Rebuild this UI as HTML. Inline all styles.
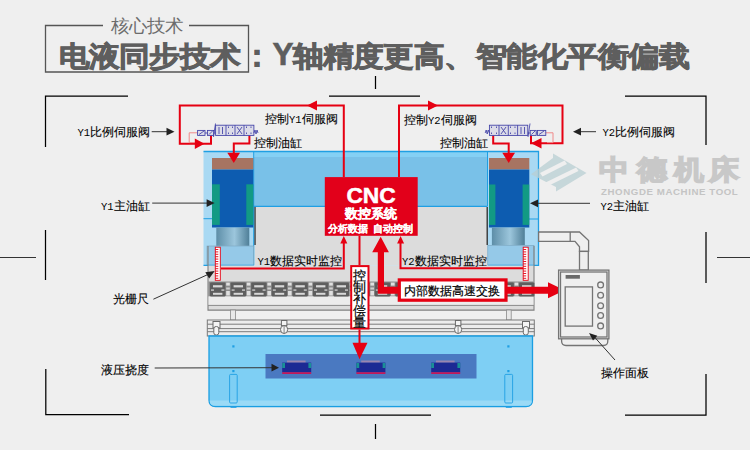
<!DOCTYPE html>
<html><head><meta charset="utf-8">
<style>
html,body{margin:0;padding:0;background:#efefef;}
body{width:750px;height:450px;overflow:hidden;position:relative;}
svg{position:absolute;left:0;top:0;}
text{font-family:"Liberation Sans",sans-serif;}
</style></head>
<body>
<svg width="750" height="450" viewBox="0 0 750 450">
<rect x="0" y="0" width="750" height="450" fill="#efefef"/>

<!-- ===== Title ===== -->
<g fill="none" stroke="#555" stroke-width="1.3">
  <polyline points="103,25.5 45.5,25.5 45.5,72 248.5,72 248.5,25.5 189,25.5"/>
</g>
<text transform="translate(110.5,31.6) scale(1.03,1)" x="0" y="0" font-size="18" fill="#6c6c6c">核心技术</text>
<text transform="translate(58.5,65.5) scale(1.02,0.93)" x="0" y="0" font-size="30" font-weight="bold" fill="#5e5e5e" stroke="#5e5e5e" stroke-width="0.9">电液同步技术</text>
<text x="242" y="66" font-size="30" font-weight="bold" fill="#5e5e5e" stroke="#5e5e5e" stroke-width="0.9">：</text>
<text x="272.5" y="65" font-size="31.5" font-weight="bold" fill="#5e5e5e" stroke="#5e5e5e" stroke-width="0.6">Y</text>
<text transform="translate(292.6,65.5) scale(1.018,0.93)" x="0" y="0" font-size="30" font-weight="bold" fill="#5e5e5e" stroke="#5e5e5e" stroke-width="0.9">轴精度更高、</text><text transform="translate(476,65.5) scale(1.033,0.93)" x="0" y="0" font-size="30" font-weight="bold" fill="#5e5e5e" stroke="#5e5e5e" stroke-width="0.9">智能化平衡偏载</text>

<!-- ===== Frame corner lines ===== -->
<g fill="none" stroke="#000" stroke-width="1.25">
  <polyline points="45.5,147 45.5,96 128,96"/>
  <polyline points="625,96 706,96 706,145"/>
  <line x1="329" y1="96" x2="420" y2="96"/>
  <line x1="375.5" y1="76" x2="375.5" y2="89"/>
  <line x1="45.5" y1="230" x2="45.5" y2="280"/>
  <polyline points="45.8,369 45.8,414.5 129,414.5"/>
  <line x1="706" y1="232" x2="706" y2="283"/>
  <polyline points="706,374 706,415 625,415"/>
  <line x1="320" y1="415" x2="431" y2="415"/>
  <line x1="375.5" y1="424" x2="375.5" y2="439"/>
</g>


<!-- ===== Upper body ===== -->
<!-- outer frame light blue -->
<rect x="203.5" y="151.5" width="335" height="114" fill="#a9d9f3"/>
<!-- mid beam -->
<rect x="254" y="151.5" width="233.5" height="5.5" fill="#84d0f4"/><rect x="254" y="157" width="233.5" height="49" fill="#79c1e8"/>
<line x1="254" y1="206.3" x2="487.5" y2="206.3" stroke="#1f9fe3" stroke-width="1.2"/>
<!-- grey gap inside -->
<rect x="254.5" y="207" width="233" height="58" fill="#dcdcdc"/>
<line x1="255" y1="207" x2="255" y2="245" stroke="#2a2a2a" stroke-width="1.3"/>
<line x1="487.2" y1="207" x2="487.2" y2="245" stroke="#2a2a2a" stroke-width="1.3"/>
<line x1="253.7" y1="151.5" x2="253.7" y2="265.5" stroke="#1f9fe3" stroke-width="1"/>
<line x1="487.5" y1="151.5" x2="487.5" y2="206" stroke="#1f9fe3" stroke-width="1"/>
<!-- left section lines -->
<line x1="203.5" y1="218.7" x2="212" y2="218.7" stroke="#1f9fe3" stroke-width="1"/>
<line x1="529" y1="219" x2="538.5" y2="219" stroke="#1f9fe3" stroke-width="1"/>

<!-- left cylinder -->
<rect x="212" y="158" width="41.3" height="11.5" fill="#a77462"/>
<rect x="212" y="169.5" width="41.3" height="58" fill="#0d5cb0"/>
<rect x="212" y="184.3" width="7.8" height="40.6" fill="#129a84"/>
<rect x="246.3" y="184.3" width="7" height="40.6" fill="#129a84"/>
<defs>
<linearGradient id="rod" x1="0" x2="1" y1="0" y2="0">
<stop offset="0" stop-color="#5d8ea8"/><stop offset="0.55" stop-color="#9cc6dc"/><stop offset="1" stop-color="#4f7f98"/>
</linearGradient>
</defs>
<rect x="216.3" y="227.6" width="33" height="18.3" fill="url(#rod)"/>
<rect x="207" y="246" width="46.7" height="19.4" fill="#95c9e8" stroke="#7aa3bd" stroke-width="0.6"/>

<!-- right cylinder -->
<rect x="489" y="158" width="40.3" height="11.5" fill="#a77462"/>
<rect x="489" y="169.5" width="40.3" height="58" fill="#0d5cb0"/>
<rect x="489" y="184.5" width="6.4" height="40.4" fill="#129a84"/>
<rect x="522.6" y="184.5" width="6.6" height="40.4" fill="#129a84"/>
<rect x="491.9" y="227.6" width="32.9" height="17.7" fill="url(#rod)"/>
<rect x="487.8" y="245.3" width="46.2" height="20" fill="#95c9e8" stroke="#7aa3bd" stroke-width="0.6"/>
<path d="M203.5,151.5 H538.5 V265.4 H487.8 M254,265.4 H203.5 Z" fill="none" stroke="#1f9fe3" stroke-width="1.3"/>

<!-- ===== Lower grey body ===== -->
<rect x="208" y="265.5" width="326" height="44.6" fill="#dcdcdc"/><polyline points="208,246 208,310.1 534,310.1 534,246" fill="none" stroke="#808080" stroke-width="1.1"/>
<rect x="208.5" y="281.5" width="325" height="15.3" fill="#8c8c8c"/>
<rect x="208.5" y="296.3" width="325" height="9" fill="#ececec"/>
<line x1="208" y1="305.4" x2="534" y2="305.4" stroke="#8a8a8a" stroke-width="1"/>
<g id="clamps"><rect x="210.0" y="282.6" width="15.4" height="14" rx="1" fill="#5e5e5e"/><rect x="213.0" y="285.2" width="9.4" height="2.2" fill="#d8d8d8"/><rect x="213.0" y="292.8" width="9.4" height="2" fill="#d8d8d8"/><rect x="211.0" y="289.3" width="3" height="1.6" fill="#bdbdbd"/><rect x="221.4" y="289.3" width="3" height="1.6" fill="#bdbdbd"/><rect x="226.2" y="282.6" width="3.6" height="3" fill="#e0e0e0"/><rect x="226.2" y="287.5" width="3.6" height="2" fill="#cfcfcf"/><rect x="226.2" y="291" width="3.6" height="4.5" fill="#e0e0e0"/><rect x="230.6" y="282.6" width="15.4" height="14" rx="1" fill="#5e5e5e"/><rect x="233.6" y="285.2" width="9.4" height="2.2" fill="#d8d8d8"/><rect x="233.6" y="292.8" width="9.4" height="2" fill="#d8d8d8"/><rect x="231.6" y="289.3" width="3" height="1.6" fill="#bdbdbd"/><rect x="242.0" y="289.3" width="3" height="1.6" fill="#bdbdbd"/><rect x="246.8" y="282.6" width="3.6" height="3" fill="#e0e0e0"/><rect x="246.8" y="287.5" width="3.6" height="2" fill="#cfcfcf"/><rect x="246.8" y="291" width="3.6" height="4.5" fill="#e0e0e0"/><rect x="251.2" y="282.6" width="15.4" height="14" rx="1" fill="#5e5e5e"/><rect x="254.2" y="285.2" width="9.4" height="2.2" fill="#d8d8d8"/><rect x="254.2" y="292.8" width="9.4" height="2" fill="#d8d8d8"/><rect x="252.2" y="289.3" width="3" height="1.6" fill="#bdbdbd"/><rect x="262.6" y="289.3" width="3" height="1.6" fill="#bdbdbd"/><rect x="267.4" y="282.6" width="3.6" height="3" fill="#e0e0e0"/><rect x="267.4" y="287.5" width="3.6" height="2" fill="#cfcfcf"/><rect x="267.4" y="291" width="3.6" height="4.5" fill="#e0e0e0"/><rect x="271.8" y="282.6" width="15.4" height="14" rx="1" fill="#5e5e5e"/><rect x="274.8" y="285.2" width="9.4" height="2.2" fill="#d8d8d8"/><rect x="274.8" y="292.8" width="9.4" height="2" fill="#d8d8d8"/><rect x="272.8" y="289.3" width="3" height="1.6" fill="#bdbdbd"/><rect x="283.2" y="289.3" width="3" height="1.6" fill="#bdbdbd"/><rect x="288.0" y="282.6" width="3.6" height="3" fill="#e0e0e0"/><rect x="288.0" y="287.5" width="3.6" height="2" fill="#cfcfcf"/><rect x="288.0" y="291" width="3.6" height="4.5" fill="#e0e0e0"/><rect x="292.4" y="282.6" width="15.4" height="14" rx="1" fill="#5e5e5e"/><rect x="295.4" y="285.2" width="9.4" height="2.2" fill="#d8d8d8"/><rect x="295.4" y="292.8" width="9.4" height="2" fill="#d8d8d8"/><rect x="293.4" y="289.3" width="3" height="1.6" fill="#bdbdbd"/><rect x="303.8" y="289.3" width="3" height="1.6" fill="#bdbdbd"/><rect x="308.6" y="282.6" width="3.6" height="3" fill="#e0e0e0"/><rect x="308.6" y="287.5" width="3.6" height="2" fill="#cfcfcf"/><rect x="308.6" y="291" width="3.6" height="4.5" fill="#e0e0e0"/><rect x="313.0" y="282.6" width="15.4" height="14" rx="1" fill="#5e5e5e"/><rect x="316.0" y="285.2" width="9.4" height="2.2" fill="#d8d8d8"/><rect x="316.0" y="292.8" width="9.4" height="2" fill="#d8d8d8"/><rect x="314.0" y="289.3" width="3" height="1.6" fill="#bdbdbd"/><rect x="324.4" y="289.3" width="3" height="1.6" fill="#bdbdbd"/><rect x="329.2" y="282.6" width="3.6" height="3" fill="#e0e0e0"/><rect x="329.2" y="287.5" width="3.6" height="2" fill="#cfcfcf"/><rect x="329.2" y="291" width="3.6" height="4.5" fill="#e0e0e0"/><rect x="333.6" y="282.6" width="15.4" height="14" rx="1" fill="#5e5e5e"/><rect x="336.6" y="285.2" width="9.4" height="2.2" fill="#d8d8d8"/><rect x="336.6" y="292.8" width="9.4" height="2" fill="#d8d8d8"/><rect x="334.6" y="289.3" width="3" height="1.6" fill="#bdbdbd"/><rect x="345.0" y="289.3" width="3" height="1.6" fill="#bdbdbd"/><rect x="349.8" y="282.6" width="3.6" height="3" fill="#e0e0e0"/><rect x="349.8" y="287.5" width="3.6" height="2" fill="#cfcfcf"/><rect x="349.8" y="291" width="3.6" height="4.5" fill="#e0e0e0"/><rect x="354.2" y="282.6" width="15.4" height="14" rx="1" fill="#5e5e5e"/><rect x="357.2" y="285.2" width="9.4" height="2.2" fill="#d8d8d8"/><rect x="357.2" y="292.8" width="9.4" height="2" fill="#d8d8d8"/><rect x="355.2" y="289.3" width="3" height="1.6" fill="#bdbdbd"/><rect x="365.6" y="289.3" width="3" height="1.6" fill="#bdbdbd"/><rect x="370.4" y="282.6" width="3.6" height="3" fill="#e0e0e0"/><rect x="370.4" y="287.5" width="3.6" height="2" fill="#cfcfcf"/><rect x="370.4" y="291" width="3.6" height="4.5" fill="#e0e0e0"/><rect x="374.8" y="282.6" width="15.4" height="14" rx="1" fill="#5e5e5e"/><rect x="377.8" y="285.2" width="9.4" height="2.2" fill="#d8d8d8"/><rect x="377.8" y="292.8" width="9.4" height="2" fill="#d8d8d8"/><rect x="375.8" y="289.3" width="3" height="1.6" fill="#bdbdbd"/><rect x="386.2" y="289.3" width="3" height="1.6" fill="#bdbdbd"/><rect x="391.0" y="282.6" width="3.6" height="3" fill="#e0e0e0"/><rect x="391.0" y="287.5" width="3.6" height="2" fill="#cfcfcf"/><rect x="391.0" y="291" width="3.6" height="4.5" fill="#e0e0e0"/><rect x="395.4" y="282.6" width="15.4" height="14" rx="1" fill="#5e5e5e"/><rect x="398.4" y="285.2" width="9.4" height="2.2" fill="#d8d8d8"/><rect x="398.4" y="292.8" width="9.4" height="2" fill="#d8d8d8"/><rect x="396.4" y="289.3" width="3" height="1.6" fill="#bdbdbd"/><rect x="406.8" y="289.3" width="3" height="1.6" fill="#bdbdbd"/><rect x="411.6" y="282.6" width="3.6" height="3" fill="#e0e0e0"/><rect x="411.6" y="287.5" width="3.6" height="2" fill="#cfcfcf"/><rect x="411.6" y="291" width="3.6" height="4.5" fill="#e0e0e0"/><rect x="416.0" y="282.6" width="15.4" height="14" rx="1" fill="#5e5e5e"/><rect x="419.0" y="285.2" width="9.4" height="2.2" fill="#d8d8d8"/><rect x="419.0" y="292.8" width="9.4" height="2" fill="#d8d8d8"/><rect x="417.0" y="289.3" width="3" height="1.6" fill="#bdbdbd"/><rect x="427.4" y="289.3" width="3" height="1.6" fill="#bdbdbd"/><rect x="432.2" y="282.6" width="3.6" height="3" fill="#e0e0e0"/><rect x="432.2" y="287.5" width="3.6" height="2" fill="#cfcfcf"/><rect x="432.2" y="291" width="3.6" height="4.5" fill="#e0e0e0"/><rect x="436.6" y="282.6" width="15.4" height="14" rx="1" fill="#5e5e5e"/><rect x="439.6" y="285.2" width="9.4" height="2.2" fill="#d8d8d8"/><rect x="439.6" y="292.8" width="9.4" height="2" fill="#d8d8d8"/><rect x="437.6" y="289.3" width="3" height="1.6" fill="#bdbdbd"/><rect x="448.0" y="289.3" width="3" height="1.6" fill="#bdbdbd"/><rect x="452.8" y="282.6" width="3.6" height="3" fill="#e0e0e0"/><rect x="452.8" y="287.5" width="3.6" height="2" fill="#cfcfcf"/><rect x="452.8" y="291" width="3.6" height="4.5" fill="#e0e0e0"/><rect x="457.2" y="282.6" width="15.4" height="14" rx="1" fill="#5e5e5e"/><rect x="460.2" y="285.2" width="9.4" height="2.2" fill="#d8d8d8"/><rect x="460.2" y="292.8" width="9.4" height="2" fill="#d8d8d8"/><rect x="458.2" y="289.3" width="3" height="1.6" fill="#bdbdbd"/><rect x="468.6" y="289.3" width="3" height="1.6" fill="#bdbdbd"/><rect x="473.4" y="282.6" width="3.6" height="3" fill="#e0e0e0"/><rect x="473.4" y="287.5" width="3.6" height="2" fill="#cfcfcf"/><rect x="473.4" y="291" width="3.6" height="4.5" fill="#e0e0e0"/><rect x="477.8" y="282.6" width="15.4" height="14" rx="1" fill="#5e5e5e"/><rect x="480.8" y="285.2" width="9.4" height="2.2" fill="#d8d8d8"/><rect x="480.8" y="292.8" width="9.4" height="2" fill="#d8d8d8"/><rect x="478.8" y="289.3" width="3" height="1.6" fill="#bdbdbd"/><rect x="489.2" y="289.3" width="3" height="1.6" fill="#bdbdbd"/><rect x="494.0" y="282.6" width="3.6" height="3" fill="#e0e0e0"/><rect x="494.0" y="287.5" width="3.6" height="2" fill="#cfcfcf"/><rect x="494.0" y="291" width="3.6" height="4.5" fill="#e0e0e0"/><rect x="498.4" y="282.6" width="15.4" height="14" rx="1" fill="#5e5e5e"/><rect x="501.4" y="285.2" width="9.4" height="2.2" fill="#d8d8d8"/><rect x="501.4" y="292.8" width="9.4" height="2" fill="#d8d8d8"/><rect x="499.4" y="289.3" width="3" height="1.6" fill="#bdbdbd"/><rect x="509.8" y="289.3" width="3" height="1.6" fill="#bdbdbd"/><rect x="514.6" y="282.6" width="3.6" height="3" fill="#e0e0e0"/><rect x="514.6" y="287.5" width="3.6" height="2" fill="#cfcfcf"/><rect x="514.6" y="291" width="3.6" height="4.5" fill="#e0e0e0"/><rect x="519.0" y="282.6" width="15.4" height="14" rx="1" fill="#5e5e5e"/><rect x="522.0" y="285.2" width="9.4" height="2.2" fill="#d8d8d8"/><rect x="522.0" y="292.8" width="9.4" height="2" fill="#d8d8d8"/><rect x="520.0" y="289.3" width="3" height="1.6" fill="#bdbdbd"/><rect x="530.4" y="289.3" width="3" height="1.6" fill="#bdbdbd"/></g>
<!-- posts -->
<rect x="230.5" y="310" width="5" height="10" fill="#e8e8e8" stroke="#8a8a8a" stroke-width="0.8"/>
<rect x="506.4" y="310" width="4.8" height="10" fill="#e8e8e8" stroke="#8a8a8a" stroke-width="0.8"/>
<!-- die rail -->
<rect x="207.3" y="320" width="327" height="16" fill="#ececec" stroke="#7a7a7a" stroke-width="1"/>
<line x1="207.3" y1="324.2" x2="534.3" y2="324.2" stroke="#7a7a7a" stroke-width="1"/>
<line x1="207.3" y1="328.6" x2="534.3" y2="328.6" stroke="#7a7a7a" stroke-width="1"/>
<line x1="207.3" y1="331.7" x2="534.3" y2="331.7" stroke="#7a7a7a" stroke-width="1"/>
<g fill="#f4f4f4" stroke="#6a6a6a" stroke-width="1">
  <rect x="213" y="321.5" width="7" height="6.5"/>
  <rect x="213.8" y="326.5" width="5" height="8.5" rx="2.3"/>
  <rect x="522.5" y="321.5" width="7" height="6.5"/>
  <rect x="523.3" y="326.5" width="5" height="8.5" rx="2.3"/>
  <rect x="281.4" y="320.5" width="5.5" height="5"/>
  <ellipse cx="284.1" cy="329.5" rx="3.6" ry="4"/>
  <rect x="455.4" y="320.5" width="5.5" height="5"/>
  <ellipse cx="458.1" cy="329.5" rx="3.6" ry="4"/>
</g>
<line x1="284.1" y1="325.5" x2="284.1" y2="333.5" stroke="#6a6a6a" stroke-width="0.8"/>
<line x1="458.1" y1="325.5" x2="458.1" y2="333.5" stroke="#6a6a6a" stroke-width="0.8"/>

<!-- ===== Lower blue body ===== -->
<path d="M209,336 L532.5,336 L532.5,400 Q532.5,406.5 526,406.5 L215.5,406.5 Q209,406.5 209,400 Z" fill="#7ecff4" stroke="#1a9ee2" stroke-width="1.3"/>
<path d="M209.7,400.6 L531.8,400.6 L531.8,401 Q531.8,405.8 526,405.8 L215.5,405.8 Q209.7,405.8 209.7,401 Z" fill="#9adaf6"/>
<rect x="265.5" y="354" width="211" height="24.5" fill="#4a79c1"/>


<!-- ===== rulers ===== -->
<g id="rulers"><rect x="215.3" y="247.2" width="5.0" height="33.10000000000002" fill="#fff" stroke="#e60012" stroke-width="0.9"/><line x1="215.3" y1="249.5" x2="218.3" y2="249.5" stroke="#e60012" stroke-width="0.9"/><line x1="215.3" y1="251.9" x2="218.3" y2="251.9" stroke="#e60012" stroke-width="0.9"/><line x1="215.3" y1="254.3" x2="218.3" y2="254.3" stroke="#e60012" stroke-width="0.9"/><line x1="215.3" y1="256.7" x2="218.3" y2="256.7" stroke="#e60012" stroke-width="0.9"/><line x1="215.3" y1="259.1" x2="218.3" y2="259.1" stroke="#e60012" stroke-width="0.9"/><line x1="215.3" y1="261.5" x2="218.3" y2="261.5" stroke="#e60012" stroke-width="0.9"/><line x1="215.3" y1="263.9" x2="218.3" y2="263.9" stroke="#e60012" stroke-width="0.9"/><line x1="215.3" y1="266.3" x2="218.3" y2="266.3" stroke="#e60012" stroke-width="0.9"/><line x1="215.3" y1="268.7" x2="218.3" y2="268.7" stroke="#e60012" stroke-width="0.9"/><line x1="215.3" y1="271.1" x2="218.3" y2="271.1" stroke="#e60012" stroke-width="0.9"/><line x1="215.3" y1="273.5" x2="218.3" y2="273.5" stroke="#e60012" stroke-width="0.9"/><line x1="215.3" y1="275.9" x2="218.3" y2="275.9" stroke="#e60012" stroke-width="0.9"/><line x1="215.3" y1="278.3" x2="218.3" y2="278.3" stroke="#e60012" stroke-width="0.9"/><rect x="523.2" y="247.2" width="5.0" height="33.10000000000002" fill="#fff" stroke="#e60012" stroke-width="0.9"/><line x1="523.2" y1="249.5" x2="526.2" y2="249.5" stroke="#e60012" stroke-width="0.9"/><line x1="523.2" y1="251.9" x2="526.2" y2="251.9" stroke="#e60012" stroke-width="0.9"/><line x1="523.2" y1="254.3" x2="526.2" y2="254.3" stroke="#e60012" stroke-width="0.9"/><line x1="523.2" y1="256.7" x2="526.2" y2="256.7" stroke="#e60012" stroke-width="0.9"/><line x1="523.2" y1="259.1" x2="526.2" y2="259.1" stroke="#e60012" stroke-width="0.9"/><line x1="523.2" y1="261.5" x2="526.2" y2="261.5" stroke="#e60012" stroke-width="0.9"/><line x1="523.2" y1="263.9" x2="526.2" y2="263.9" stroke="#e60012" stroke-width="0.9"/><line x1="523.2" y1="266.3" x2="526.2" y2="266.3" stroke="#e60012" stroke-width="0.9"/><line x1="523.2" y1="268.7" x2="526.2" y2="268.7" stroke="#e60012" stroke-width="0.9"/><line x1="523.2" y1="271.1" x2="526.2" y2="271.1" stroke="#e60012" stroke-width="0.9"/><line x1="523.2" y1="273.5" x2="526.2" y2="273.5" stroke="#e60012" stroke-width="0.9"/><line x1="523.2" y1="275.9" x2="526.2" y2="275.9" stroke="#e60012" stroke-width="0.9"/><line x1="523.2" y1="278.3" x2="526.2" y2="278.3" stroke="#e60012" stroke-width="0.9"/></g>

<!-- ===== red lines ===== -->
<g fill="none" stroke="#e60012" stroke-width="2" stroke-linejoin="miter">
  <!-- left big loop: CNC -> valve -->
  <polyline points="343.8,177 343.8,105.5 179.8,105.5 179.8,143.8 211,143.8 211,135.4"/>
  <!-- right big loop -->
  <polyline points="399,177 399,105.5 562.5,105.5 562.5,143.3 531,143.3 531,135.4"/>
  <!-- valve -> cylinder left -->
  <polyline points="249.4,135.4 249.4,143.5 233.8,143.5 233.8,154"/>
  <!-- valve -> cylinder right -->
  <polyline points="493.2,135.4 493.2,143.5 508.7,143.5 508.7,154"/>
  <!-- monitor lines -->
  <polyline points="221,268.5 343.8,268.5 343.8,242"/>
  <polyline points="523,268.3 400.5,268.3 400.5,242"/>
  <!-- control compensation line -->
  <line x1="359.5" y1="235.8" x2="359.5" y2="265"/>
  <line x1="359.5" y1="329.5" x2="359.5" y2="345"/>
</g>
<g fill="none" stroke="#f08a8a" stroke-width="1">
  <polyline points="197.6,132.8 189.2,132.8 189.2,142.6 195,142.6"/>
  <polyline points="544.5,132.8 553,132.8 553,142.6 547,142.6"/>
</g>
<g fill="#e60012">
  <!-- arrowheads -->
  <polygon points="307,105.5 317,100.5 317,110.5"/>
  <polygon points="438,105.5 428,100.5 428,110.5"/>
  <polygon points="204.5,143.8 194.8,138.4 194.8,149"/>
  <polygon points="531,143.3 541.5,138 541.5,148.6"/>
  <polygon points="233.8,163 227.3,152.7 240,152.7"/>
  <polygon points="508.7,163 502.3,152.7 515,152.7"/>
  <polygon points="343.8,236 340.3,243.5 347.3,243.5"/>
  <polygon points="400.6,236 397.1,243.5 404.1,243.5"/>
  <polygon points="359.5,359.2 352.5,342.8 367.5,342.8"/>
  <!-- big up arrow + right arrow -->
  <polygon points="380.7,236.7 372.2,252.2 377.8,252.2 377.8,293.7 548,293.7 548,298.3 564.7,290.3 548,282.3 548,286.7 384,286.7 384,252.2 388.9,252.2"/>
</g>

<!-- ===== CNC box ===== -->
<rect x="324.8" y="177.1" width="92.9" height="58.7" fill="#e2001a"/>
<text x="371.1" y="203" font-size="22.8" font-weight="bold" fill="#fff" stroke="#fff" stroke-width="0.5" text-anchor="middle">CNC</text>
<text x="371" y="218" font-size="13" font-weight="bold" fill="#fff" stroke="#fff" stroke-width="0.25" text-anchor="middle">数控系统</text>
<text x="327.5" y="232" font-size="10" font-weight="bold" fill="#fff" stroke="#fff" stroke-width="0.15">分析数据</text><text x="372.5" y="232" font-size="10" font-weight="bold" fill="#fff" stroke="#fff" stroke-width="0.15">自动控制</text>

<!-- ===== compensation box ===== -->
<rect x="351.2" y="266.1" width="17.3" height="62.4" fill="#fff" stroke="#e60012" stroke-width="2"/>
<g font-size="13" fill="#000" stroke="#000" stroke-width="0.2" text-anchor="middle">
<text x="359.8" y="280.2">控</text><text x="359.8" y="291.8">制</text><text x="359.8" y="303.4">补</text><text x="359.8" y="315">偿</text><text x="359.8" y="326.6">量</text>
</g>

<!-- ===== internal data box ===== -->
<rect x="399.3" y="279.9" width="106.7" height="20.3" fill="#fff" stroke="#e60012" stroke-width="3.2"/>
<text x="403.5" y="294.8" font-size="12.2" fill="#000" stroke="#000" stroke-width="0.2">内部数据高速交换</text>


<!-- ===== valves ===== -->
<g stroke="#3f3fa6" stroke-width="0.85" fill="#dcdce8">
  <rect x="215.6" y="125.2" width="38.3" height="10.2"/>
  <rect x="197.6" y="130.4" width="7.4" height="5"/>
  <rect x="207.4" y="130.4" width="6.3" height="5"/>
  <line x1="226" y1="125.2" x2="226" y2="135.4"/>
  <line x1="235" y1="125.2" x2="235" y2="135.4"/>
  <line x1="244" y1="125.2" x2="244" y2="135.4"/>
  <polyline fill="none" points="253.9,133 255,130 256,134 257,130 258,133"/>
  <line x1="205" y1="133" x2="207.4" y2="133"/>
  <line x1="213.7" y1="133" x2="215.6" y2="133"/>
  <line x1="213.5" y1="137" x2="215.5" y2="123.5"/>
  <line x1="219" y1="134" x2="219" y2="127"/><line x1="222.5" y1="127" x2="222.5" y2="134"/>
  <line x1="228.5" y1="126.5" x2="228.5" y2="128"/><line x1="232.5" y1="126.5" x2="232.5" y2="128"/>
  <line x1="228.5" y1="132.5" x2="228.5" y2="134"/><line x1="232.5" y1="132.5" x2="232.5" y2="134"/>
  <line x1="237" y1="127" x2="242" y2="134"/><line x1="242" y1="127" x2="237" y2="134"/>
  <line x1="246.5" y1="126.5" x2="246.5" y2="128"/><line x1="251" y1="126.5" x2="251" y2="128"/>
  <line x1="246.5" y1="132.5" x2="246.5" y2="134"/><line x1="251" y1="132.5" x2="251" y2="134"/>
  <line x1="199" y1="134.5" x2="204" y2="131"/>
  <line x1="209" y1="134.5" x2="212.5" y2="131"/>
</g>
<g stroke="#3f3fa6" stroke-width="0.85" fill="#dcdce8">
  <rect x="489.4" y="125.2" width="38.4" height="10.2"/>
  <rect x="530.2" y="130.4" width="6" height="5"/>
  <rect x="537.4" y="130.4" width="8.4" height="5"/>
  <line x1="499" y1="125.2" x2="499" y2="135.4"/>
  <line x1="508.3" y1="125.2" x2="508.3" y2="135.4"/>
  <line x1="517.6" y1="125.2" x2="517.6" y2="135.4"/>
  <polyline fill="none" points="489.4,133 488.2,130 487.2,134 486.2,130 485.2,133"/>
  <line x1="527.8" y1="133" x2="530.2" y2="133"/>
  <line x1="536.2" y1="133" x2="537.4" y2="133"/>
  <line x1="528" y1="137" x2="530" y2="123.5"/>
  <line x1="491.5" y1="126.5" x2="491.5" y2="128"/><line x1="496.5" y1="126.5" x2="496.5" y2="128"/>
  <line x1="491.5" y1="132.5" x2="491.5" y2="134"/><line x1="496.5" y1="132.5" x2="496.5" y2="134"/>
  <line x1="501" y1="127" x2="506" y2="134"/><line x1="506" y1="127" x2="501" y2="134"/>
  <line x1="510.5" y1="126.5" x2="510.5" y2="128"/><line x1="515" y1="126.5" x2="515" y2="128"/>
  <line x1="510.5" y1="132.5" x2="510.5" y2="134"/><line x1="515" y1="132.5" x2="515" y2="134"/>
  <line x1="521" y1="134" x2="521" y2="127"/><line x1="524.5" y1="127" x2="524.5" y2="134"/>
  <line x1="539" y1="134.5" x2="544" y2="131"/>
  <line x1="531.5" y1="134.5" x2="535" y2="131"/>
</g>

<!-- ===== dies ===== -->
<g id="dies"><rect x="287.0" y="360.5" width="18.6" height="2.3" fill="#9a86b0"/><rect x="282.2" y="362.6" width="29" height="9.8" fill="#1c2a94"/><rect x="282.2" y="372.2" width="29" height="1.8" fill="#c2185b"/><rect x="282.2" y="363" width="2.8" height="5" fill="#1a8f96"/><rect x="308.4" y="363" width="2.8" height="5" fill="#1a8f96"/><rect x="361.2" y="360.5" width="18.6" height="2.3" fill="#9a86b0"/><rect x="356.4" y="362.6" width="29" height="9.8" fill="#1c2a94"/><rect x="356.4" y="372.2" width="29" height="1.8" fill="#c2185b"/><rect x="356.4" y="363" width="2.8" height="5" fill="#1a8f96"/><rect x="382.59999999999997" y="363" width="2.8" height="5" fill="#1a8f96"/><rect x="436.0" y="360.5" width="18.6" height="2.3" fill="#9a86b0"/><rect x="431.2" y="362.6" width="29" height="9.8" fill="#1c2a94"/><rect x="431.2" y="372.2" width="29" height="1.8" fill="#c2185b"/><rect x="431.2" y="363" width="2.8" height="5" fill="#1a8f96"/><rect x="457.4" y="363" width="2.8" height="5" fill="#1a8f96"/></g>
<!-- slots & dots on lower body -->
<g fill="none" stroke="#1f9fe3" stroke-width="0.9">
  <rect x="229.6" y="374.4" width="7.6" height="28.6" rx="1"/>
  <rect x="504.8" y="374.4" width="7.8" height="28.6" rx="1"/>
</g>
<g fill="#1f9fe3">
  <rect x="232.3" y="345.3" width="2.2" height="2.2"/>
  <rect x="232.3" y="370" width="2.2" height="2.2"/>
  <rect x="507.3" y="345.3" width="2.2" height="2.2"/>
  <rect x="507.3" y="370" width="2.2" height="2.2"/>
  <rect x="230.5" y="406" width="6" height="1.8"/>
  <rect x="505.8" y="406" width="6" height="1.8"/>
</g>

<!-- ===== pipe & operation panel ===== -->
<g fill="#efefef" stroke="#747474" stroke-width="1.3">
  <path d="M538.6,232 L570.2,232 L579.5,232 L588.6,240.5 L588.6,251.4 L579.5,251.4 L579.5,246.8 L575,241.3 L538.6,241.3 Z"/>
  <line x1="570.2" y1="232" x2="570.2" y2="241.3"/>
  <rect x="579.5" y="251.4" width="8.8" height="18.7"/>
  <path d="M561.6,336 L561.6,341 Q561.6,345.5 566,345.5 L603.5,345.5 Q607.8,345.5 607.8,341 L607.8,336" fill="none"/>
  <rect x="558.6" y="270.1" width="50.3" height="68.7"/>
  <rect x="560.5" y="272" width="46.5" height="65"/>
  <rect x="565.2" y="286.9" width="27.3" height="39.2"/>
</g>
<rect x="565.6" y="275" width="14.3" height="3.7" fill="#6a6a6a"/>
<g fill="#efefef" stroke="#747474" stroke-width="1.3">
  <circle cx="600.6" cy="284.9" r="2.9"/><circle cx="600.6" cy="295.3" r="2.9"/><circle cx="600.6" cy="305.7" r="2.9"/><circle cx="600.6" cy="315.5" r="2.9"/><circle cx="600.6" cy="325.9" r="2.9"/>
</g>

<!-- ===== labels ===== -->
<g font-size="12" fill="#000" stroke="#000" stroke-width="0.1">
  <text x="77.5" y="136.2"><tspan font-family="Liberation Mono" font-size="10.5" stroke-width="0">Y1</tspan>比例伺服阀</text>
  <text x="101" y="209.6"><tspan font-family="Liberation Mono" font-size="10.5" stroke-width="0">Y1</tspan>主油缸</text>
  <text x="602.5" y="136.2"><tspan font-family="Liberation Mono" font-size="10.5" stroke-width="0">Y2</tspan>比例伺服阀</text>
  <text x="600.5" y="209.6"><tspan font-family="Liberation Mono" font-size="10.5" stroke-width="0">Y2</tspan>主油缸</text>
  <text x="113" y="302.5">光栅尺</text>
  <text x="100.5" y="374">液压挠度</text>
  <text x="600.8" y="377">操作面板</text>
  <text x="265" y="123">控制<tspan font-family="Liberation Mono" font-size="10.5" stroke-width="0">Y1</tspan>伺服阀</text>
  <text x="253.5" y="146.8">控制油缸</text>
  <text x="404" y="124">控制<tspan font-family="Liberation Mono" font-size="10.5" stroke-width="0">Y2</tspan>伺服阀</text>
  <text x="440" y="146.8">控制油缸</text>
  <text x="257.5" y="265.3"><tspan font-family="Liberation Mono" font-size="10.5" stroke-width="0">Y1</tspan>数据实时监控</text>
  <text x="402" y="265.3"><tspan font-family="Liberation Mono" font-size="10.5" stroke-width="0">Y2</tspan>数据实时监控</text>
</g>
<g stroke="#333" stroke-width="1" fill="none">
  <line x1="151.7" y1="131.7" x2="168" y2="131.7"/>
  <line x1="152.2" y1="203.1" x2="208" y2="203.1"/>
  <line x1="596" y1="131.7" x2="579" y2="131.7"/>
  <line x1="590" y1="203.3" x2="535" y2="203.3"/>
  <line x1="153.4" y1="299.2" x2="209" y2="274"/>
  <line x1="154.7" y1="368" x2="273" y2="367.7"/>
  <line x1="615" y1="360" x2="594" y2="336.5"/>
</g>
<g fill="#222">
  <polygon points="174.5,131.7 166.5,127.8 166.5,135.6"/>
  <polygon points="214.6,203.1 206.6,199.2 206.6,207"/>
  <polygon points="573,131.7 581,127.8 581,135.6"/>
  <polygon points="530,203.3 538,199.4 538,207.2"/>
  <polygon points="214.7,271.1 205.3,272.2 209.2,278.4"/>
  <polygon points="279,367.7 271.5,363.8 271.5,371.6"/>
  <polygon points="589,333 597.3,335.7 593,340.5"/>
</g>


<!-- ===== watermark ===== -->
<g opacity="0.75">
<path d="M553,153.5 L586.5,173 L556,191.4 L556,187 L531,174.3 L553,158 Z" fill="#b9cfd3"/>
<path d="M540,173 L564.6,160.5 L567,164 L542.5,176.5 Z" fill="#efefef"/>
<path d="M545,182.8 L576.2,167.5 L578.5,171 L547.5,186.3 Z" fill="#efefef"/>
</g>
<g font-size="27" font-weight="bold" fill="#c8c8c8" stroke="#c8c8c8" stroke-width="1.5"><text transform="translate(599.4,179) scale(1.11,1)" x="0" y="0">中</text><text transform="translate(637,179) scale(1.11,1)" x="0" y="0">德</text><text transform="translate(674,179) scale(1.11,1)" x="0" y="0">机</text><text transform="translate(709,179) scale(1.11,1)" x="0" y="0">床</text></g>
<text x="601" y="194.6" font-size="9.7" font-weight="bold" fill="#c4c4c4" letter-spacing="0.58">ZHONGDE MACHINE TOOL</text>

<g stroke="#333" stroke-width="1.2"><line x1="0" y1="257.5" x2="36" y2="257.5"/><line x1="717" y1="257.5" x2="750" y2="257.5"/></g>
<!-- MACHINE_PLACEHOLDER -->

</svg>
</body></html>
